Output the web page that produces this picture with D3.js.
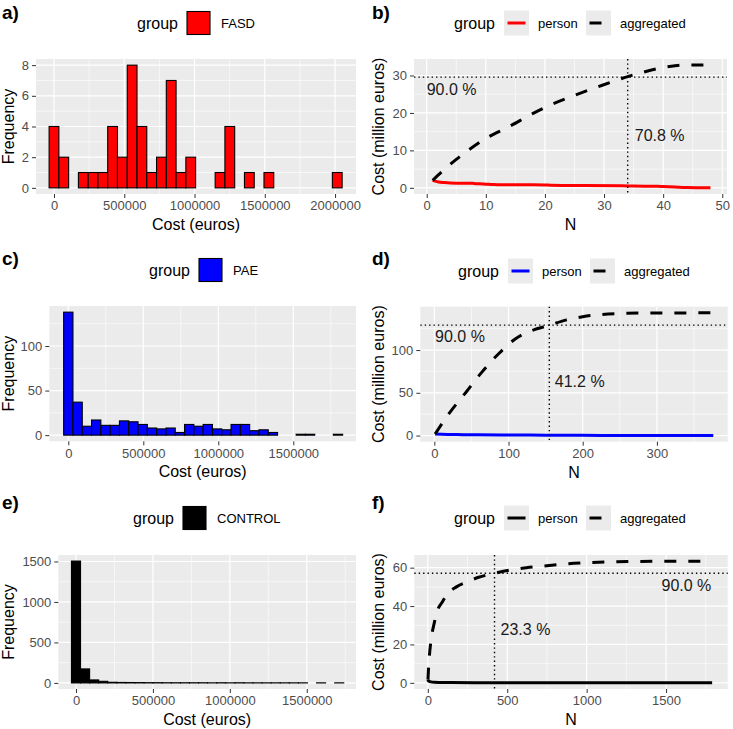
<!DOCTYPE html>
<html>
<head>
<meta charset="utf-8">
<script src="https://cdn.jsdelivr.net/npm/d3@7"></script>
<style>
  body { margin: 0; background: #fff; }
</style>
</head>
<body>
<div id="chart"></div>
<script>
const FONT = '"Liberation Sans", Arial, Helvetica, sans-serif';

// histogram counts, 30 bins centred on 0
const fasdBinWidth = 69500;
const fasdCounts = [4, 2, 0, 1, 1, 1, 4, 2, 8, 4, 1, 2, 7, 1, 2, 0, 0, 1, 4, 0, 1, 0, 1, 0, 0, 0, 0, 0, 0, 1];
const paeBinWidth = 62000;
const paeCounts = [138, 37, 10, 17, 11, 11, 16, 15, 12, 8, 7, 8, 3, 12, 10, 12, 7, 6, 12, 12, 5, 6, 3, 0, 0, 1, 1, 0, 0, 1];
const controlBinWidth = 59000;
const controlCounts = [1505, 173, 37, 20, 8, 6, 5, 4, 3, 3, 2, 2, 2, 2, 2, 1, 2, 1, 2, 1, 1, 1, 1, 1, 1, 1, 0, 1, 0, 1];

// cost curves (million euros)
const fasdAggN = [1, 3, 5, 7, 10, 14, 18, 21, 25, 29, 33, 34, 36, 39, 42, 44, 48];
const fasdAggCost = [2.0, 4.9, 7.6, 10.0, 13.2, 16.4, 19.9, 22.2, 24.7, 27.0, 29.2, 29.7, 30.6, 31.8, 32.6, 32.8, 32.8];
const fasdPersonN = [1, 2, 3, 4, 5, 7, 8, 10, 11, 12, 18, 20, 21, 25, 33, 35, 39, 40, 42, 44, 48];
const fasdPersonCost = [2.0, 1.55, 1.4, 1.3, 1.26, 1.26, 1.19, 0.98, 0.91, 0.84, 0.84, 0.77, 0.7, 0.63, 0.56, 0.49, 0.42, 0.35, 0.21, 0.07, 0.0];

const paeAggN = [1, 20, 43, 63, 87, 110, 132, 155, 177, 200, 244, 300, 376];
const paeAggCost = [1.8, 26, 51, 73, 96, 113.5, 123, 129, 135, 139, 142.5, 143.4, 143.5];
const paePersonN = [1, 10, 30, 60, 100, 150, 200, 250, 300, 376];
const paePersonCost = [1.8, 1.5, 1.1, 0.85, 0.65, 0.45, 0.25, 0.1, 0.02, 0];

const controlAggN = [1, 5, 10, 20, 40, 60, 90, 120, 180, 244, 320, 421, 520, 620, 750, 870, 1000, 1285, 1500, 1790];
const controlAggCost = [1.7, 8, 14, 22, 31, 37.5, 42, 46, 50, 52.5, 55, 57.1, 58.8, 60, 61, 62, 62.6, 63.2, 63.4, 63.4];
const controlPersonN = [1, 3, 6, 10, 20, 40, 80, 150, 300, 600, 1000, 1790];
const controlPersonCost = [1.7, 1.2, 0.9, 0.7, 0.5, 0.3, 0.2, 0.13, 0.07, 0.03, 0.01, 0];

// 90 % thresholds
const fasdCut = { n: 34, cost: 29.55, pctN: "70.8 %" };
const paeCut = { n: 155, cost: 129.1, pctN: "41.2 %" };
const controlCut = { n: 420, cost: 57.1, pctN: "23.3 %" };

const svg = d3.select("#chart").append("svg")
    .attr("width", 733)
    .attr("height", 729)
    .style("font-family", FONT);

const zip = (a, b) => a.map((v, i) => [v, b[i]]);

// panel background, grid and axes
const drawFrame = (p) => {
    const x = d3.scaleLinear().domain(p.xDomain).range([p.box.x0, p.box.x1]);
    const y = d3.scaleLinear().domain(p.yDomain).range([p.box.y1, p.box.y0]);
    const g = svg.append("g");

    g.append("rect")
        .attr("x", p.box.x0).attr("y", p.box.y0)
        .attr("width", p.box.x1 - p.box.x0).attr("height", p.box.y1 - p.box.y0)
        .attr("fill", "#EBEBEB");

    // minor grid
    g.selectAll(".mx").data(p.xMinor).enter().append("line")
        .attr("x1", d => x(d)).attr("x2", d => x(d))
        .attr("y1", p.box.y0).attr("y2", p.box.y1)
        .attr("stroke", "#fff").attr("stroke-width", 0.6);
    g.selectAll(".my").data(p.yMinor).enter().append("line")
        .attr("y1", d => y(d)).attr("y2", d => y(d))
        .attr("x1", p.box.x0).attr("x2", p.box.x1)
        .attr("stroke", "#fff").attr("stroke-width", 0.6);
    // major grid
    g.selectAll(".Mx").data(p.xTicks).enter().append("line")
        .attr("x1", d => x(d)).attr("x2", d => x(d))
        .attr("y1", p.box.y0).attr("y2", p.box.y1)
        .attr("stroke", "#fff").attr("stroke-width", 1.2);
    g.selectAll(".My").data(p.yTicks).enter().append("line")
        .attr("y1", d => y(d)).attr("y2", d => y(d))
        .attr("x1", p.box.x0).attr("x2", p.box.x1)
        .attr("stroke", "#fff").attr("stroke-width", 1.2);

    const gx = svg.append("g")
        .attr("transform", `translate(0,${p.box.y1})`)
        .call(d3.axisBottom(x).tickValues(p.xTicks).tickSize(4).tickPadding(3).tickFormat(d3.format("d")));
    const gy = svg.append("g")
        .attr("transform", `translate(${p.box.x0},0)`)
        .call(d3.axisLeft(y).tickValues(p.yTicks).tickSize(4).tickPadding(3).tickFormat(d3.format("d")));
    [gx, gy].forEach(a => {
        a.attr("font-size", 13).attr("font-family", FONT);
        a.select(".domain").remove();
        a.selectAll("line").attr("stroke", "#333").attr("stroke-width", 1);
        a.selectAll("text").attr("fill", "#4D4D4D");
    });

    // axis titles
    svg.append("text")
        .attr("x", (p.box.x0 + p.box.x1) / 2)
        .attr("y", p.box.y1 + 36)
        .attr("text-anchor", "middle")
        .attr("font-size", 16)
        .text(p.xTitle);
    svg.append("text")
        .attr("transform", `translate(${p.yTitleX},${(p.box.y0 + p.box.y1) / 2}) rotate(-90)`)
        .attr("text-anchor", "middle")
        .attr("font-size", 16)
        .text(p.yTitle);

    // panel tag
    svg.append("text")
        .attr("x", p.tagX).attr("y", p.tagY)
        .attr("font-size", 19).attr("font-weight", "bold")
        .text(p.tag);

    return { x, y };
};

const drawHist = (p) => {
    const { x, y } = drawFrame(p);
    const bins = p.counts.map((c, i) => ({ mid: i * p.binWidth, count: c }));
    svg.append("g").selectAll("rect")
        .data(bins)
        .enter()
        .append("rect")
        .attr("x", d => x(d.mid - p.binWidth / 2))
        .attr("width", d => x(d.mid + p.binWidth / 2) - x(d.mid - p.binWidth / 2))
        .attr("y", d => y(d.count))
        .attr("height", d => y(0) - y(d.count))
        .attr("fill", p.fill)
        .attr("stroke", "#000")
        .attr("stroke-width", 1.1);

    // legend
    const lg = svg.append("g");
    lg.append("text").attr("x", p.legX).attr("y", p.legY)
        .attr("dominant-baseline", "central").attr("font-size", 16).text("group");
    lg.append("rect").attr("x", p.legX + 50).attr("y", p.legY - 11.5)
        .attr("width", 23).attr("height", 23)
        .attr("fill", p.fill).attr("stroke", "#000").attr("stroke-width", 1.1);
    lg.append("text").attr("x", p.legX + 84).attr("y", p.legY)
        .attr("dominant-baseline", "central").attr("font-size", 13).text(p.group);
};

const drawCum = (p) => {
    const { x, y } = drawFrame(p);
    const line = d3.line().x(d => x(d[0])).y(d => y(d[1])).curve(d3.curveMonotoneX);

    svg.append("path")
        .datum(zip(p.personN, p.personCost))
        .attr("d", line)
        .attr("fill", "none")
        .attr("stroke", p.color)
        .attr("stroke-width", 3);
    svg.append("path")
        .datum(zip(p.aggN, p.aggCost))
        .attr("d", line)
        .attr("fill", "none")
        .attr("stroke", "#000")
        .attr("stroke-width", 3)
        .attr("stroke-dasharray", "12,12");

    // 90 % reference lines
    svg.append("line")
        .attr("x1", p.box.x0).attr("x2", p.box.x1)
        .attr("y1", y(p.cut.cost)).attr("y2", y(p.cut.cost))
        .attr("stroke", "#000").attr("stroke-width", 1.4).attr("stroke-dasharray", "1.4,3");
    svg.append("line")
        .attr("x1", x(p.cut.n)).attr("x2", x(p.cut.n))
        .attr("y1", p.box.y0).attr("y2", p.box.y1)
        .attr("stroke", "#000").attr("stroke-width", 1.4).attr("stroke-dasharray", "1.4,3");

    svg.append("text")
        .attr("x", x(p.lab90[0])).attr("y", y(p.lab90[1]))
        .attr("text-anchor", p.lab90[2])
        .attr("dominant-baseline", "central")
        .attr("font-size", 16).attr("fill", "#1a1a1a")
        .text("90.0 %");
    svg.append("text")
        .attr("x", x(p.labN[0])).attr("y", y(p.labN[1]))
        .attr("dominant-baseline", "central")
        .attr("font-size", 16).attr("fill", "#1a1a1a")
        .text(p.cut.pctN);

    // legend
    const lg = svg.append("g");
    lg.append("text").attr("x", p.legX).attr("y", p.legY)
        .attr("dominant-baseline", "central").attr("font-size", 16).text("group");
    [[50, 84, "person", p.color, null], [132, 166, "aggregated", "#000", "12,12"]].forEach(k => {
        lg.append("rect").attr("x", p.legX + k[0]).attr("y", p.legY - 12.5)
            .attr("width", 25).attr("height", 25).attr("fill", "#EBEBEB");
        lg.append("line")
            .attr("x1", p.legX + k[0] + 3.5).attr("x2", p.legX + k[0] + 21.5)
            .attr("y1", p.legY).attr("y2", p.legY)
            .attr("stroke", k[3]).attr("stroke-width", 3)
            .attr("stroke-dasharray", k[4] ? "12,12" : null);
        lg.append("text").attr("x", p.legX + k[1]).attr("y", p.legY)
            .attr("dominant-baseline", "central").attr("font-size", 13).text(k[2]);
    });
};

const costTicks = [0, 500000, 1000000, 1500000, 2000000];
const costMinor = [250000, 750000, 1250000, 1750000];

drawHist({
    tag: "a)", tagX: 2, tagY: 19,
    box: { x0: 36, x1: 356, y0: 59, y1: 194 },
    xDomain: [-128000, 2149000], yDomain: [-0.4, 8.4],
    xTicks: costTicks, xMinor: costMinor,
    yTicks: [0, 2, 4, 6, 8], yMinor: [1, 3, 5, 7],
    xTitle: "Cost (euros)", yTitle: "Frequency", yTitleX: 13.5,
    counts: fasdCounts, binWidth: fasdBinWidth, fill: "#FF0000",
    group: "FASD", legX: 137, legY: 23
});

drawCum({
    tag: "b)", tagX: 372, tagY: 19,
    box: { x0: 414, x1: 727, y0: 59, y1: 194 },
    xDomain: [-2.15, 50.8], yDomain: [-1.64, 34.4],
    xTicks: [0, 10, 20, 30, 40, 50], xMinor: [5, 15, 25, 35, 45],
    yTicks: [0, 10, 20, 30], yMinor: [5, 15, 25],
    xTitle: "N", yTitle: "Cost (million euros)", yTitleX: 384,
    personN: fasdPersonN, personCost: fasdPersonCost,
    aggN: fasdAggN, aggCost: fasdAggCost, color: "#FF0000",
    cut: fasdCut, lab90: [0, 26.2, "start"], labN: [35.2, 14.1],
    legX: 454, legY: 23
});

drawHist({
    tag: "c)", tagX: 2, tagY: 265,
    box: { x0: 49.3, x1: 356, y0: 306, y1: 441.3 },
    xDomain: [-126700, 1918000], yDomain: [-6.9, 144.9],
    xTicks: costTicks.slice(0, 4), xMinor: costMinor,
    yTicks: [0, 50, 100], yMinor: [25, 75, 125],
    xTitle: "Cost (euros)", yTitle: "Frequency", yTitleX: 13.5,
    counts: paeCounts, binWidth: paeBinWidth, fill: "#0000FF",
    group: "PAE", legX: 149, legY: 270
});

drawCum({
    tag: "d)", tagX: 372, tagY: 265,
    box: { x0: 420.3, x1: 727.7, y0: 306.7, y1: 441.7 },
    xDomain: [-18.9, 395.4], yDomain: [-7.2, 150.7],
    xTicks: [0, 100, 200, 300], xMinor: [50, 150, 250, 350],
    yTicks: [0, 50, 100], yMinor: [25, 75, 125],
    xTitle: "N", yTitle: "Cost (million euros)", yTitleX: 384,
    personN: paePersonN, personCost: paePersonCost,
    aggN: paeAggN, aggCost: paeAggCost, color: "#0000FF",
    cut: paeCut, lab90: [1, 115.6, "start"], labN: [162.4, 63],
    legX: 458, legY: 271
});

drawHist({
    tag: "e)", tagX: 2, tagY: 509,
    box: { x0: 58.3, x1: 356, y0: 555, y1: 689 },
    xDomain: [-115000, 1820000], yDomain: [-75, 1580],
    xTicks: costTicks.slice(0, 4), xMinor: costMinor,
    yTicks: [0, 500, 1000, 1500], yMinor: [250, 750, 1250],
    xTitle: "Cost (euros)", yTitle: "Frequency", yTitleX: 13.5,
    counts: controlCounts, binWidth: controlBinWidth, fill: "#000000",
    group: "CONTROL", legX: 133, legY: 518
});

drawCum({
    tag: "f)", tagX: 372, tagY: 509,
    box: { x0: 414.3, x1: 727.7, y0: 555, y1: 689 },
    xDomain: [-85, 1888], yDomain: [-3.2, 66.6],
    xTicks: [0, 500, 1000, 1500], xMinor: [250, 750, 1250, 1750],
    yTicks: [0, 20, 40, 60], yMinor: [10, 30, 50],
    xTitle: "N", yTitle: "Cost (million euros)", yTitleX: 384,
    personN: controlPersonN, personCost: controlPersonCost,
    aggN: controlAggN, aggCost: controlAggCost, color: "#000000",
    cut: controlCut, lab90: [1785, 50.8, "end"], labN: [458, 27.9],
    legX: 454, legY: 518
});
</script>
</body>
</html>
